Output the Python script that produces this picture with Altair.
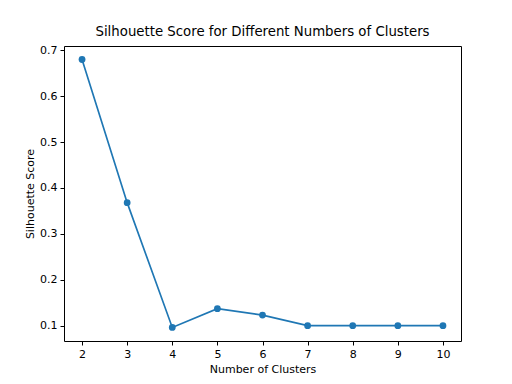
import altair as alt
import pandas as pd

clusters = [2, 3, 4, 5, 6, 7, 8, 9, 10]
scores = [0.680, 0.368, 0.096, 0.137, 0.123, 0.100, 0.100, 0.100, 0.100]
x_ticks = [2, 3, 4, 5, 6, 7, 8, 9, 10]
y_ticks = [0.1, 0.2, 0.3, 0.4, 0.5, 0.6, 0.7]

df = pd.DataFrame({"k": clusters, "score": scores})

FONT = "DejaVu Sans"
color = "#1f77b4"

x = alt.X("k:Q", scale=alt.Scale(domain=[1.6, 10.4], nice=False, zero=False),
          axis=alt.Axis(values=x_ticks, title="Number of Clusters", format="d"))
y = alt.Y("score:Q", scale=alt.Scale(domain=[0.0665, 0.7094], nice=False, zero=False),
          axis=alt.Axis(values=y_ticks, title="Silhouette Score", format=".1f"))

line = alt.Chart(df).mark_line(color=color, strokeWidth=1.67).encode(x=x, y=y)
pts = alt.Chart(df).mark_circle(color=color, size=46, opacity=1).encode(x=x, y=y)

chart = (line + pts).properties(
    width=397, height=295,
    title=alt.TitleParams("Silhouette Score for Different Numbers of Clusters",
                          font=FONT, fontSize=13.3, fontWeight="normal", color="black",
                          anchor="middle", offset=6),
    autosize=alt.AutoSizeParams(type="none"),
    padding={"left": 56, "top": 38, "right": 43, "bottom": 35},
).configure_view(stroke="black", strokeWidth=1).configure_axis(
    grid=False, domain=False, ticks=True, tickSize=4, tickColor="black", tickWidth=1,
    labelFont=FONT, labelFontSize=11, labelColor="black", labelPadding=3,
    titleFont=FONT, titleFontSize=11, titleFontWeight="normal", titleColor="black",
).configure_axisY(titlePadding=4).configure_axisX(titlePadding=4)

chart.save("out.html", embed_options={"renderer": "svg", "actions": False})
